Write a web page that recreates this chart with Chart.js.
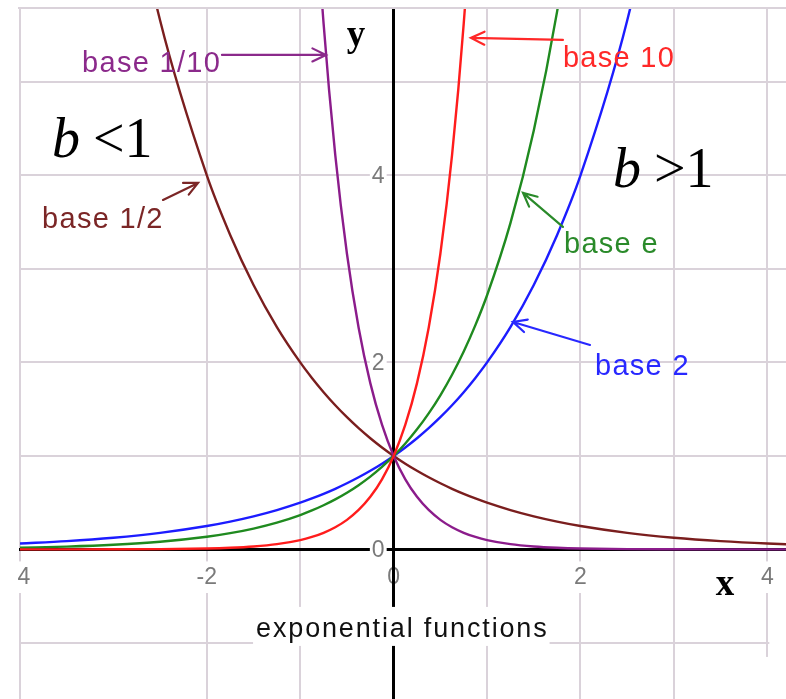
<!DOCTYPE html>
<html>
<head>
<meta charset="utf-8">
<title>exponential functions</title>
<script src="https://cdn.jsdelivr.net/npm/chart.js@4.4.1/dist/chart.umd.min.js"></script>
<style>
  html, body { margin: 0; padding: 0; background: #fff; }
  #wrap { width: 786px; height: 699px; }
</style>
</head>
<body>
<div id="wrap"><canvas id="expChart" width="786" height="699"></canvas></div>
<script>
// ── values ──
const xValues = [-4, -3.5, -3, -2.5, -2, -1.75, -1.5, -1.25, -1, -0.875, -0.75, -0.625, -0.5, -0.375, -0.25, -0.125,
  0, 0.125, 0.25, 0.375, 0.5, 0.625, 0.75, 0.875, 1, 1.25, 1.5, 1.75, 2, 2.5, 3, 3.5, 4, 4.5];

const base10Values = [0.0001, 0.0003, 0.001, 0.0032, 0.01, 0.0178, 0.0316, 0.0562, 0.1, 0.1334, 0.1778, 0.2371, 0.3162, 0.4217, 0.5623, 0.7499,
  1, 1.3335, 1.7783, 2.3714, 3.1623, 4.2170, 5.6234, 7.4989, 10, 17.783, 31.623, 56.234, 100, 316.23, 1000, 3162.3, 10000, 31623];
const baseTenthValues = [10000, 3162.3, 1000, 316.23, 100, 56.234, 31.623, 17.783, 10, 7.4989, 5.6234, 4.2170, 3.1623, 2.3714, 1.7783, 1.3335,
  1, 0.7499, 0.5623, 0.4217, 0.3162, 0.2371, 0.1778, 0.1334, 0.1, 0.0562, 0.0316, 0.0178, 0.01, 0.0032, 0.001, 0.0003, 0.0001, 0.00003];
const baseEValues = [0.0183, 0.0302, 0.0498, 0.0821, 0.1353, 0.1738, 0.2231, 0.2865, 0.3679, 0.4169, 0.4724, 0.5353, 0.6065, 0.6873, 0.7788, 0.8825,
  1, 1.1331, 1.2840, 1.4550, 1.6487, 1.8682, 2.1170, 2.3989, 2.7183, 3.4903, 4.4817, 5.7546, 7.3891, 12.182, 20.086, 33.115, 54.598, 90.017];
const base2Values = [0.0625, 0.0884, 0.125, 0.1768, 0.25, 0.2973, 0.3536, 0.4204, 0.5, 0.5453, 0.5946, 0.6484, 0.7071, 0.7711, 0.8409, 0.9170,
  1, 1.0905, 1.1892, 1.2968, 1.4142, 1.5422, 1.6818, 1.8340, 2, 2.3784, 2.8284, 3.3636, 4, 5.6569, 8, 11.314, 16, 22.627];
const baseHalfValues = [16, 11.314, 8, 5.6569, 4, 3.3636, 2.8284, 2.3784, 2, 1.8340, 1.6818, 1.5422, 1.4142, 1.2968, 1.1892, 1.0905,
  1, 0.9170, 0.8409, 0.7711, 0.7071, 0.6484, 0.5946, 0.5453, 0.5, 0.4204, 0.3536, 0.2973, 0.25, 0.1768, 0.125, 0.0884, 0.0625, 0.0442];

// grid lines (the picture has none at x = -3) and their labels
const xTicks = [-4, -2, -1, 0, 1, 2, 3, 4];
const xTickLabels = ['-4', '-2', '', '0', '', '2', '', '4'];
const yTicks = [-1, 0, 1, 2, 3, 4, 5];
const yTickLabels = ['', '0', '', '2', '', '4', ''];

const SANS = '"Liberation Sans", Arial, sans-serif';
const SERIF = '"Liberation Serif", "Times New Roman", serif';
const GRID = '#dad2da';
const TICK = '#7a7a7a';

// callouts: text anchor, arrow tail, arrow head (data units)
const callouts = [
  { text: 'base 1/10', color: '#8b2a8b', at: [-3.336, 5.107], from: [-1.838, 5.289], to: [-0.725, 5.289] },
  { text: 'base 1/2',  color: '#7b2626', at: [-3.764, 3.439], from: [-2.469, 3.738], to: [-2.094, 3.920] },
  { text: 'base 10',   color: '#ff2828', at: [1.812, 5.160],  from: [1.812, 5.449],  to: [0.827, 5.471] },
  { text: 'base e',    color: '#2a8a2a', at: [1.823, 3.171],  from: [1.812, 3.449],  to: [1.385, 3.813] },
  { text: 'base 2',    color: '#2828ff', at: [2.155, 1.866],  from: [2.102, 2.187],  to: [1.277, 2.433] },
];

function toPoints(values) {
  return xValues.map((x, i) => ({ x, y: values[i] }));
}

function curve(values, color) {
  return {
    data: toPoints(values),
    showLine: true,
    borderColor: color,
    borderWidth: 2.4,
    pointRadius: 0,
    cubicInterpolationMode: 'monotone',
  };
}

function drawArrow(ctx, x1, y1, x2, y2, color) {
  const a = Math.atan2(y2 - y1, x2 - x1), len = 15, spread = 0.45;
  ctx.strokeStyle = color;
  ctx.lineWidth = 2.2;
  ctx.lineCap = 'round';
  ctx.beginPath();
  ctx.moveTo(x1, y1);
  ctx.lineTo(x2, y2);
  ctx.moveTo(x2 - len * Math.cos(a - spread), y2 - len * Math.sin(a - spread));
  ctx.lineTo(x2, y2);
  ctx.lineTo(x2 - len * Math.cos(a + spread), y2 - len * Math.sin(a + spread));
  ctx.stroke();
}

// axes sit inside the plot, so they must not take any room from it
function noRoom(s) {
  if (s.isHorizontal()) s.height = 0; else s.width = 0;
  s.paddingLeft = s.paddingRight = s.paddingTop = s.paddingBottom = 0;
}

// top edge of the grid and the y tick labels (left of the y axis)
const underlay = {
  id: 'underlay',
  beforeDatasetsDraw(chart) {
    const { ctx, chartArea, scales: { x, y } } = chart;
    ctx.save();
    ctx.strokeStyle = GRID;
    ctx.lineWidth = 2;
    ctx.beginPath();
    ctx.moveTo(chartArea.left - 2, chartArea.top - 1);
    ctx.lineTo(chartArea.right, chartArea.top - 1);
    ctx.stroke();

    ctx.font = '23px ' + SANS;
    ctx.textAlign = 'right';
    ctx.textBaseline = 'middle';
    const ax = x.getPixelForValue(0) - 9;
    y.ticks.forEach((t, i) => {
      const label = yTickLabels[i];
      if (!label) return;
      const w = ctx.measureText(label).width, ty = y.getPixelForValue(t.value) + 1;
      ctx.fillStyle = '#fff';
      ctx.fillRect(ax - w - 2, ty - 10, w + 4, 20);
      ctx.fillStyle = TICK;
      ctx.fillText(label, ax, ty);
    });
    ctx.restore();
  }
};

const notes = {
  id: 'notes',
  afterDraw(chart) {
    const { ctx, scales: { x, y } } = chart;
    const px = v => x.getPixelForValue(v), py = v => y.getPixelForValue(v);
    ctx.save();

    // the picture is cut off left of x = -4 and at the bottom right corner
    ctx.fillStyle = '#fff';
    ctx.fillRect(0, 0, 17, chart.height);
    ctx.fillRect(px(4) + 2, py(-0.9), chart.width, chart.height);
    ctx.fillRect(px(4) - 4, py(-1.15), chart.width, chart.height);

    // callouts
    ctx.textBaseline = 'alphabetic';
    ctx.textAlign = 'left';
    ctx.font = '29px ' + SANS;
    ctx.letterSpacing = '1.3px';
    callouts.forEach(c => {
      ctx.fillStyle = c.color;
      ctx.fillText(c.text, px(c.at[0]), py(c.at[1]));
      drawArrow(ctx, px(c.from[0]), py(c.from[1]), px(c.to[0]), py(c.to[1]), c.color);
    });

    // b < 1 and b > 1
    ctx.letterSpacing = '0px';
    ctx.fillStyle = '#000';
    [['<1', -3.657, 4.198], ['>1', 2.347, 3.877]].forEach(([rest, vx, vy]) => {
      ctx.font = 'italic 56px ' + SERIF;
      ctx.fillText('b', px(vx), py(vy));
      ctx.font = '56px ' + SERIF;
      ctx.fillText(rest, px(vx) + 41, py(vy));
    });

    // axis letters
    ctx.font = 'bold 37px ' + SERIF;
    ctx.textAlign = 'center';
    ctx.fillText('y', px(-0.404), py(5.385));
    ctx.fillText('x', px(3.548), py(-0.487));

    // caption on a white box
    const title = 'exponential functions';
    ctx.font = '27px ' + SANS;
    ctx.letterSpacing = '1.85px';
    ctx.textAlign = 'left';
    const tx = px(-1.473), ty = py(-0.936);
    const w = ctx.measureText(title).width;
    ctx.fillStyle = '#fff';
    ctx.fillRect(tx - 3, ty - 30, w + 4, 39);
    ctx.fillStyle = '#111';
    ctx.fillText(title, tx, ty);
    ctx.restore();
  }
};

new Chart(document.getElementById('expChart'), {
  type: 'scatter',
  data: {
    datasets: [
      curve(base10Values, '#ff1c1c'),
      curve(baseTenthValues, '#8b1c8b'),
      curve(baseEValues, '#1f8a1f'),
      curve(base2Values, '#1c1cff'),
      curve(baseHalfValues, '#7a1e1e'),
    ]
  },
  options: {
    responsive: false,
    devicePixelRatio: 1,
    animation: false,
    layout: { padding: { left: 20, top: 9, right: 0, bottom: 0 } },
    plugins: { legend: { display: false }, tooltip: { enabled: false } },
    scales: {
      x: {
        type: 'linear',
        min: -4, max: 4.2,
        position: { y: 0 },
        afterBuildTicks: s => { s.ticks = xTicks.map(v => ({ value: v })); },
        afterFit: noRoom,
        grid: { color: c => c.tick && c.tick.value === 0 ? 'rgba(0,0,0,0)' : GRID, lineWidth: 2, drawTicks: false },
        border: { color: '#000', width: 3 },
        ticks: {
          autoSkip: false, maxRotation: 0, minRotation: 0, padding: 14,
          callback: (v, i) => xTickLabels[i],
          color: TICK, font: { family: SANS, size: 23 },
          showLabelBackdrop: true, backdropPadding: 2,
          backdropColor: c => xTickLabels[c.index] ? '#fff' : 'rgba(0,0,0,0)'
        }
      },
      y: {
        type: 'linear',
        min: -1.6, max: 5.78,
        position: { x: 0 },
        afterBuildTicks: s => { s.ticks = yTicks.map(v => ({ value: v })); },
        afterFit: noRoom,
        grid: { color: c => c.tick && c.tick.value === 0 ? 'rgba(0,0,0,0)' : GRID, lineWidth: 2, drawTicks: false },
        border: { color: '#000', width: 3 },
        ticks: { display: false }
      }
    }
  },
  plugins: [underlay, notes]
});
</script>
</body>
</html>
